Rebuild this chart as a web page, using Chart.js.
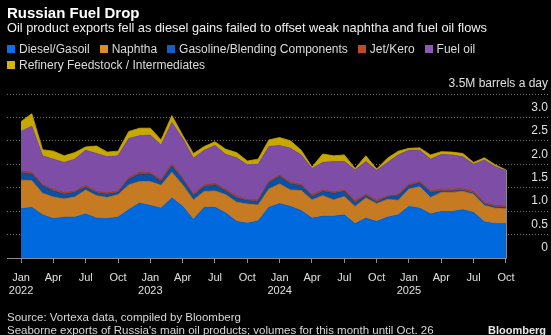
<!DOCTYPE html>
<html>
<head>
<meta charset="utf-8">
<script src="https://cdn.jsdelivr.net/npm/chart.js@4"></script>
<style>
  html, body { margin: 0; padding: 0; background: #000; }
  body { width: 551px; height: 335px; position: relative; overflow: hidden;
         font-family: "Liberation Sans", Arial, sans-serif; color: #e6e6e6; }
  #wrap { position: absolute; left: 0; top: 0; width: 551px; height: 335px; }
  #title { position: absolute; left: 7px; top: 4px; font-size: 15px; line-height: 17px; font-weight: bold; color: #fff; }
  #sub { position: absolute; left: 7px; top: 20px; font-size: 12.8px; line-height: 15px; color: #f0f0f0; }
  #legend { position: absolute; left: 7px; top: 41px; width: 540px; display: flex; flex-wrap: wrap;
            font-size: 12px; line-height: 16px; color: #dcdcdc; }
  .item { display: flex; align-items: center; height: 16px; margin-right: 10px; white-space: nowrap; }
  .sw { width: 8px; height: 8px; margin-right: 4px; }
  #src { position: absolute; left: 7px; top: 311px; font-size: 11.5px; line-height: 12.5px; color: #d8d8d8; }
  #brand { position: absolute; right: 5px; top: 324px; font-size: 11px; font-weight: bold; color: #e6e6e6; }
</style>
</head>
<body>
<div id="wrap"><canvas id="chart"></canvas></div>
<div id="title">Russian Fuel Drop</div>
<div id="sub">Oil product exports fell as diesel gains failed to offset weak naphtha and fuel oil flows</div>
<div id="legend"></div>
<div id="src">Source: Vortexa data, compiled by Bloomberg<br>Seaborne exports of Russia's main oil products; volumes for this month until Oct. 26</div>
<div id="brand">Bloomberg</div>
<script>
'use strict';

// monthly points, Jan 2022 .. Oct 2025 (million barrels a day)
const months = [
  'Jan 2022','Feb 2022','Mar 2022','Apr 2022','May 2022','Jun 2022','Jul 2022','Aug 2022','Sep 2022','Oct 2022','Nov 2022','Dec 2022',
  'Jan 2023','Feb 2023','Mar 2023','Apr 2023','May 2023','Jun 2023','Jul 2023','Aug 2023','Sep 2023','Oct 2023','Nov 2023','Dec 2023',
  'Jan 2024','Feb 2024','Mar 2024','Apr 2024','May 2024','Jun 2024','Jul 2024','Aug 2024','Sep 2024','Oct 2024','Nov 2024','Dec 2024',
  'Jan 2025','Feb 2025','Mar 2025','Apr 2025','May 2025','Jun 2025','Jul 2025','Aug 2025','Sep 2025','Oct 2025'
];

const diesel    = [1.05,1.08,0.92,0.84,0.87,0.87,0.94,0.85,0.84,0.87,1.03,1.17,1.12,1.06,1.28,1.10,0.82,1.08,1.08,0.96,0.78,0.74,0.79,1.08,1.16,1.10,1.01,0.85,0.89,0.89,0.92,0.73,0.85,0.78,0.87,0.92,1.10,1.06,0.94,0.99,0.99,1.03,0.97,0.77,0.73,0.73];
const naphtha   = [0.61,0.57,0.46,0.46,0.39,0.43,0.51,0.48,0.45,0.48,0.53,0.46,0.51,0.49,0.55,0.46,0.42,0.34,0.35,0.39,0.41,0.41,0.34,0.39,0.42,0.35,0.43,0.39,0.44,0.35,0.39,0.37,0.43,0.38,0.38,0.31,0.37,0.46,0.35,0.41,0.41,0.39,0.39,0.35,0.33,0.32];
const gasoline  = [0.16,0.14,0.16,0.13,0.10,0.10,0.06,0.06,0.07,0.05,0.12,0.16,0.16,0.08,0.13,0.11,0.09,0.10,0.13,0.08,0.09,0.07,0.08,0.13,0.16,0.13,0.10,0.07,0.09,0.14,0.11,0.08,0.05,0.03,0.05,0.10,0.07,0.08,0.11,0.03,0.03,0.02,0.02,0.03,0.03,0.03];
const jet       = [0.03,0.04,0.02,0.04,0.03,0.03,0.04,0.03,0.03,0.03,0.03,0.04,0.03,0.04,0.05,0.03,0.03,0.04,0.03,0.04,0.04,0.03,0.03,0.04,0.03,0.04,0.03,0.04,0.03,0.03,0.03,0.04,0.03,0.04,0.03,0.02,0.03,0.03,0.03,0.04,0.04,0.04,0.04,0.03,0.03,0.03];
const fuelOil   = [0.85,0.98,0.62,0.64,0.65,0.68,0.75,0.81,0.77,0.75,0.84,0.78,0.80,0.74,0.88,0.85,0.77,0.74,0.81,0.74,0.82,0.74,0.76,0.74,0.63,0.72,0.63,0.56,0.59,0.65,0.61,0.66,0.70,0.64,0.71,0.85,0.73,0.67,0.68,0.74,0.73,0.68,0.58,0.91,0.83,0.75];
const feedstock = [0.21,0.27,0.13,0.17,0.14,0.14,0.07,0.16,0.10,0.10,0.15,0.16,0.15,0.11,0.15,0.07,0.10,0.08,0.08,0.11,0.11,0.08,0.11,0.14,0.17,0.16,0.10,0.03,0.18,0.12,0.14,0.03,0.12,0.03,0.09,0.08,0.04,0.05,0.09,0.06,0.06,0.07,0.04,0.05,0.04,0.02];

// x ticks: quarters (index into months)
const xTickIdx = [0,3,6,9,12,15,18,21,24,27,30,33,36,39,42,45];
const xTickLabels = [['Jan','2022'],'Apr','Jul','Oct',['Jan','2023'],'Apr','Jul','Oct',['Jan','2024'],'Apr','Jul','Oct',['Jan','2025'],'Apr','Jul','Oct'];
const yTicks = [0,0.5,1,1.5,2,2.5,3,3.5];
const yTickLabels = ['0','0.5','1.0','1.5','2.0','2.5','3.0','3.5M barrels a day'];

const series = [
  { label: 'Diesel/Gasoil',                       data: diesel,    swatch: '#0a70ee', fill: '#0069dd' },
  { label: 'Naphtha',                             data: naphtha,   swatch: '#e08a22', fill: '#c67a22' },
  { label: 'Gasoline/Blending Components',        data: gasoline,  swatch: '#1160c4', fill: '#0b50a4' },
  { label: 'Jet/Kero',                            data: jet,       swatch: '#c04a26', fill: '#a8422a' },
  { label: 'Fuel oil',                            data: fuelOil,   swatch: '#8d58ba', fill: '#7e4ea6' },
  { label: 'Refinery Feedstock / Intermediates',  data: feedstock, swatch: '#d8b600', fill: '#c6a800' },
];

// legend
const legendEl = document.getElementById('legend');
series.forEach(s => {
  const it = document.createElement('div');
  it.className = 'item';
  it.innerHTML = `<span class="sw" style="background:${s.swatch}"></span>${s.label}`;
  legendEl.appendChild(it);
});

Chart.defaults.font.family = '"Liberation Sans", Arial, sans-serif';

// solid baseline from the left edge to the last month, plus the thin end marker
const baseline = {
  id: 'baseline',
  afterDatasetsDraw(chart) {
    const { ctx, chartArea, scales: { x, y } } = chart;
    const last = months.length - 1;
    const yy = Math.round(y.getPixelForValue(0)) + 0.5;
    const xx = Math.round(x.getPixelForValue(last)) + 0.5;
    const top = series.reduce((t, s) => t + s.data[last], 0);
    ctx.save();
    ctx.strokeStyle = '#8c8c8c';
    ctx.lineWidth = 1;
    ctx.beginPath();
    ctx.moveTo(chartArea.left, yy);
    ctx.lineTo(xx, yy);
    ctx.moveTo(xx, y.getPixelForValue(top));
    ctx.lineTo(xx, yy);
    ctx.stroke();
    ctx.restore();
  },
};

new Chart(document.getElementById('chart').getContext('2d'), {
  type: 'line',
  data: {
    datasets: series.map((s, k) => ({
      label: s.label,
      data: s.data.map((v, i) => ({ x: i, y: v })),
      backgroundColor: s.fill,
      borderColor: s.fill,
      borderWidth: 0.8,
      pointRadius: 0,
      tension: 0,
      fill: k === 0 ? 'origin' : '-1',
    })),
  },
  options: {
    responsive: true,
    maintainAspectRatio: false,
    animation: false,
    events: [],
    layout: { padding: { left: 7, right: 3, top: 94, bottom: 37 } },
    plugins: { legend: { display: false }, tooltip: { enabled: false } },
    scales: {
      x: {
        type: 'linear',
        min: -1.3, max: 48.9,
        afterBuildTicks: s => { s.ticks = xTickIdx.map(v => ({ value: v })); },
        afterFit: s => { s.height = 40; },
        ticks: { callback: (v, i) => xTickLabels[i], autoSkip: false, maxRotation: 0, color: '#e0e0e0', font: { size: 11 }, padding: 8 },
        grid: { drawOnChartArea: false, drawTicks: true, tickLength: 5, tickColor: '#8c8c8c' },
        border: { display: false },
      },
      y: {
        position: 'right',
        stacked: true,
        min: 0, max: 3.5,
        afterBuildTicks: s => { s.ticks = yTicks.map(v => ({ value: v })); },
        afterFit: s => { s.width = 0; },
        ticks: { callback: (v, i) => yTickLabels[i], autoSkip: false, mirror: true, crossAlign: 'near', labelOffset: -10, padding: 0, color: '#e0e0e0', font: { size: 12 } },
        grid: { color: c => (c.tick && c.tick.value === 0 ? 'rgba(0,0,0,0)' : '#6e6e6e'), drawTicks: false, lineWidth: 1 },
        border: { display: false, dash: [1, 2] },
      },
    },
  },
  plugins: [baseline],
});
</script>
</body>
</html>
